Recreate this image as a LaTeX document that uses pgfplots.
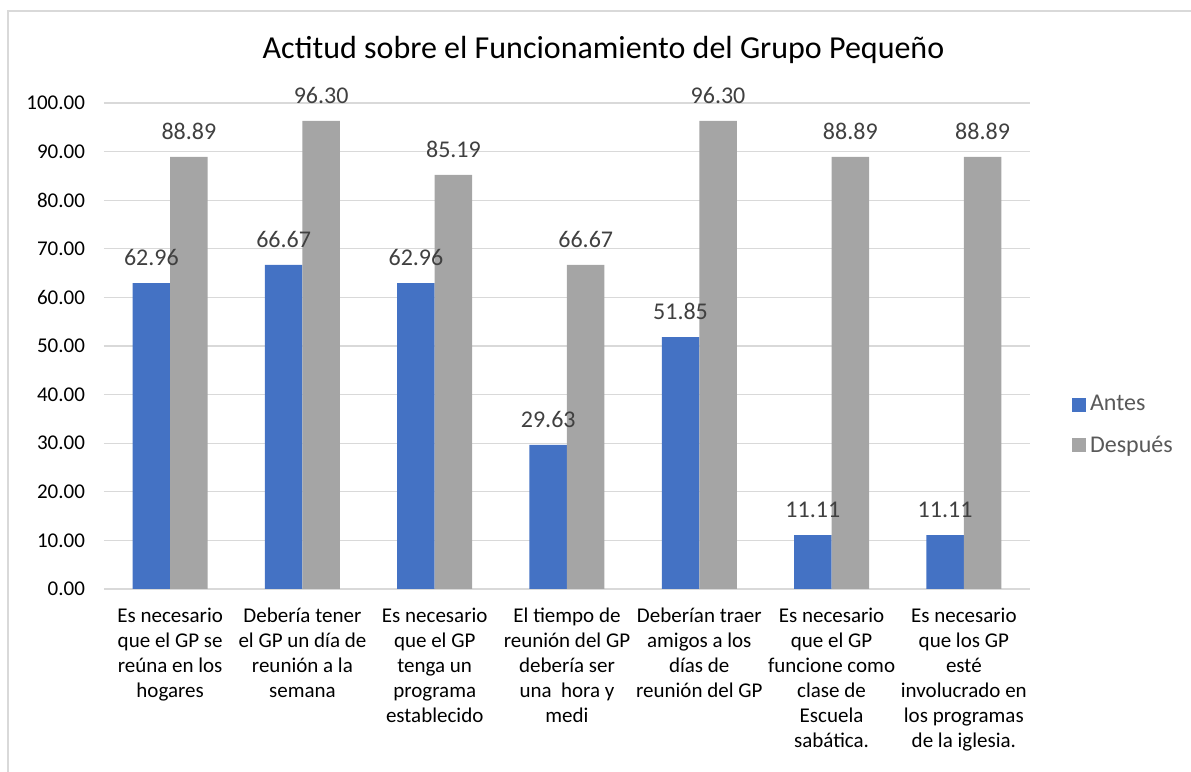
\documentclass[border=0pt]{standalone}
\usepackage{pgfplots}
\pgfplotsset{compat=1.18}
\usepackage{fontspec}
\setmainfont{Carlito}
\definecolor{antes}{HTML}{4472C4}
\definecolor{despues}{HTML}{A5A5A5}
\definecolor{gridc}{HTML}{D9D9D9}
\definecolor{lblc}{HTML}{404040}
\definecolor{legc}{HTML}{595959}
\begin{document}
\begin{tikzpicture}
\useasboundingbox (0,0) rectangle (595.5pt,386pt);
\draw[gridc, line width=0.6pt] (4pt,0) -- (4pt,380.5pt) -- (595.5pt,380.5pt);
\begin{axis}[
    at={(52pt,91.5pt)}, anchor=south west,
    scale only axis,
    width=463pt, height=243pt,
    ybar=0pt, bar width=18.75pt,
    xmin=-0.5, xmax=6.5,
    ymin=0, ymax=100,
    ytick={0,10,...,100},
    xtick=data,
    xticklabels={
        {Es necesario\\que el GP se\\reúna en los\\hogares},
        {Debería tener\\el GP un día de\\reunión a la\\semana},
        {Es necesario\\que el GP\\tenga un\\programa\\establecido},
        {El tiempo de\\reunión del GP\\debería ser\\una\ \ hora y\\medi},
        {Deberían traer\\amigos a los\\días de\\reunión del GP},
        {Es necesario\\que el GP\\funcione como\\clase de\\Escuela\\sabática.},
        {Es necesario\\que los GP\\esté\\involucrado en\\los programas\\de la iglesia.}},
    xticklabel style={align=center, font=\fontsize{10.5}{12.5}\selectfont, yshift=-6pt},
    yticklabel style={font=\fontsize{10.5}{12.6}\selectfont, xshift=-6pt},
    /pgf/number format/assume math mode=true,
    yticklabel={\pgfmathprintnumber[fixed, fixed zerofill, precision=2]{\tick}},
    major tick length=0pt,
    axis line style={draw=none},
    ymajorgrids,
    grid style={gridc, line width=0.6pt},
    clip=false,
    nodes near coords={\pgfmathprintnumber[fixed, fixed zerofill, precision=2, assume math mode=true]{\pgfplotspointmeta}},
    nodes near coords style={font=\fontsize{12}{14}\selectfont, text=lblc, anchor=south, yshift=5pt},
    legend style={at={(rel axis cs:1.045,0.337)}, anchor=west, draw=none,
        font=\fontsize{12}{14}\selectfont, text=legc, row sep=7pt,
        inner sep=0pt, cells={anchor=west}},
    legend image code/.code={\fill[#1] (0pt,-3.5pt) rectangle (7pt,3.5pt);},
]
\addplot[fill=antes, draw=none] coordinates {
    (0,62.96) (1,66.67) (2,62.96) (3,29.63) (4,51.85) (5,11.11) (6,11.11)
};
\addplot[fill=despues, draw=none] coordinates {
    (0,88.89) (1,96.30) (2,85.19) (3,66.67) (4,96.30) (5,88.89) (6,88.89)
};
\legend{Antes, Después}
\end{axis}
\node[font=\fontsize{16}{19}\selectfont] at (301.75pt,361pt) {Actitud sobre el Funcionamiento del Grupo Pequeño};
\end{tikzpicture}
\end{document}
